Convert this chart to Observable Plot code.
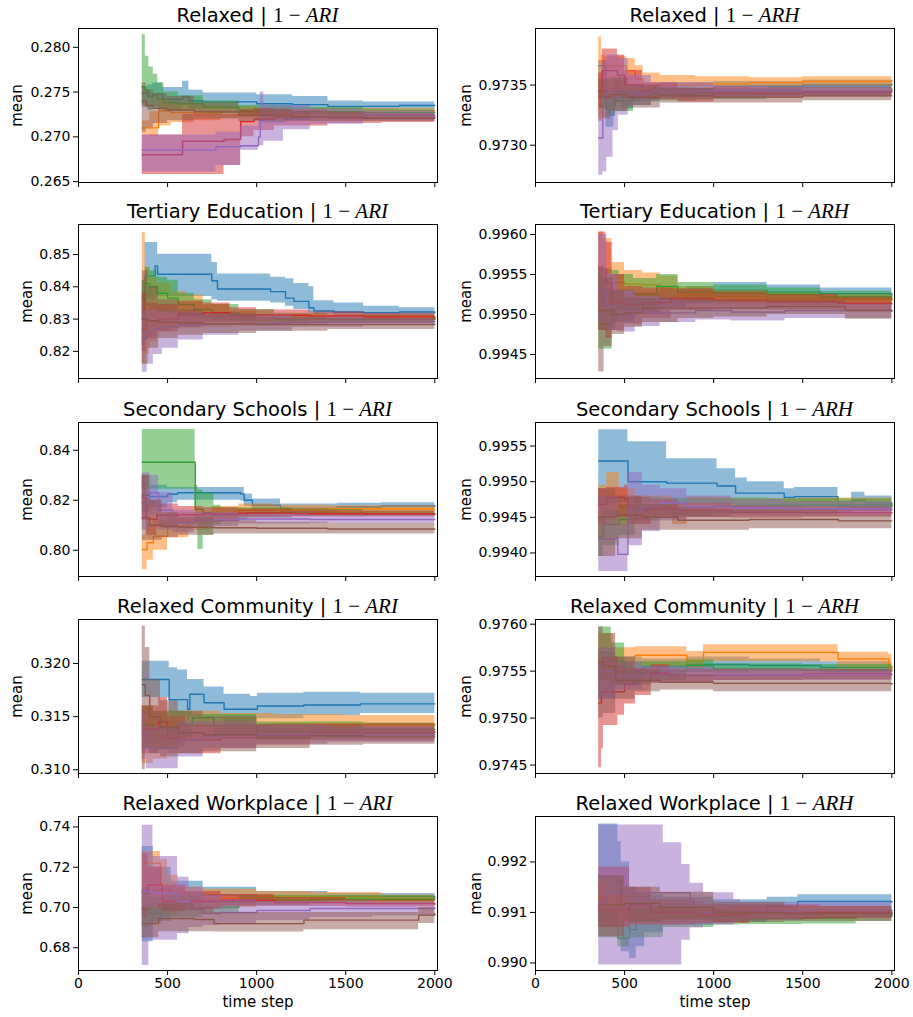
<!DOCTYPE html>
<html><head><meta charset="utf-8">
<script src="https://cdn.jsdelivr.net/npm/d3@7"></script>
<script src="https://cdn.jsdelivr.net/npm/@observablehq/plot@0.6"></script>
<style>
body{margin:0;background:#fff;}
#root{position:relative;width:913px;height:1017px;font-family:"DejaVu Sans";color:#000;}
.title{position:absolute;font-size:19.5px;line-height:20px;text-align:center;white-space:nowrap;}
.m{font-family:"Liberation Serif";font-size:21px;}
#root svg [aria-label$="axis label"]{font-size:15px;}
</style></head><body><div id="root"></div>
<script>
// ---- shared ----
const xTicks = [0, 500, 1000, 1500, 2000];
const xDomain = [0, 2015];
const seriesColors = ["#1f77b4", "#ff7f0e", "#2ca02c", "#d62728", "#9467bd", "#8c564b"];
const rowTitles = ["Relaxed", "Tertiary Education", "Secondary Schools", "Relaxed Community", "Relaxed Workplace"];
const metricNames = ["ARI", "ARH"];

// ---- y axes (domain, ticks, decimals) ----
const relARI_y = [0.2649, 0.2821], relARI_ticks = [0.265, 0.270, 0.275, 0.280], relARI_dec = 3;
const relARH_y = [0.97269, 0.97397], relARH_ticks = [0.9730, 0.9735], relARH_dec = 4;
const terARI_y = [0.8116, 0.8593], terARI_ticks = [0.82, 0.83, 0.84, 0.85], terARI_dec = 2;
const terARH_y = [0.99420, 0.996125], terARH_ticks = [0.9945, 0.9950, 0.9955, 0.9960], terARH_dec = 4;
const secARI_y = [0.7895, 0.8511], secARI_ticks = [0.80, 0.82, 0.84], secARI_dec = 2;
const secARH_y = [0.99367, 0.99583], secARH_ticks = [0.9940, 0.9945, 0.9950, 0.9955], secARH_dec = 4;
const comARI_y = [0.30965, 0.32414], comARI_ticks = [0.310, 0.315, 0.320], comARI_dec = 3;
const comARH_y = [0.97441, 0.97605], comARH_ticks = [0.9745, 0.9750, 0.9755, 0.9760], comARH_dec = 4;
const wrkARI_y = [0.6687, 0.7452], wrkARI_ticks = [0.68, 0.70, 0.72, 0.74], wrkARI_dec = 2;
const wrkARH_y = [0.98985, 0.99290], wrkARH_ticks = [0.990, 0.991, 0.992], wrkARH_dec = 3;

// ---- series: [time step, mean, lower, upper] ----
// Relaxed | 1-ARI
const relARI_blue = [[358,0.2749,0.2733,0.2756],[388,0.2745,0.2730,0.2758],[416,0.2748,0.2733,0.2760],[472,0.2742,0.2730,0.2755],[584,0.2745,0.2735,0.2762],[620,0.2740,0.2731,0.2752],[700,0.2739,0.2731,0.2749],[1000,0.2737,0.2729,0.2747],[1200,0.2736,0.2729,0.2745],[1400,0.2734,0.2729,0.2740],[1600,0.2734,0.2730,0.2739],[1800,0.2735,0.2731,0.2739],[2000,0.2735,0.2732,0.2738]];
const relARI_orange = [[358,0.2710,0.2702,0.2718],[400,0.2710,0.2700,0.2728],[450,0.2729,0.2712,0.2740],[520,0.2727,0.2716,0.2737],[650,0.2726,0.2718,0.2735],[800,0.2728,0.2721,0.2734],[1000,0.2726,0.2721,0.2731],[1300,0.2728,0.2724,0.2732],[1600,0.2729,0.2725,0.2732],[2000,0.2729,0.2726,0.2732]];
const relARI_green = [[358,0.2756,0.2735,0.2814],[375,0.2752,0.2733,0.2790],[395,0.2745,0.2730,0.2778],[420,0.2746,0.2733,0.2770],[445,0.2742,0.2730,0.2760],[480,0.2738,0.2728,0.2750],[560,0.2737,0.2728,0.2746],[700,0.2733,0.2726,0.2740],[900,0.2729,0.2723,0.2735],[1200,0.2728,0.2723,0.2733],[1600,0.2727,0.2723,0.2731],[2000,0.2727,0.2724,0.2730]];
const relARI_red = [[358,0.2680,0.2658,0.2702],[584,0.2695,0.2658,0.2725],[817,0.2697,0.2668,0.2725],[910,0.2717,0.2700,0.2730],[985,0.2720,0.2707,0.2732],[1100,0.2722,0.2712,0.2730],[1400,0.2721,0.2715,0.2727],[1700,0.2721,0.2716,0.2726],[2000,0.2721,0.2717,0.2725]];
const relARI_purple = [[358,0.2685,0.2661,0.2702],[771,0.2689,0.2668,0.2705],[910,0.2690,0.2685,0.2712],[1010,0.2700,0.2690,0.2720],[1020,0.2718,0.2690,0.2750],[1040,0.2717,0.2695,0.2735],[1150,0.2720,0.2708,0.2735],[1300,0.2722,0.2714,0.2731],[1600,0.2724,0.2718,0.2729],[2000,0.2723,0.2719,0.2727]];
const relARI_brown = [[358,0.2740,0.2705,0.2760],[380,0.2735,0.2710,0.2752],[420,0.2732,0.2715,0.2748],[500,0.2730,0.2718,0.2745],[650,0.2728,0.2720,0.2738],[900,0.2724,0.2717,0.2731],[1200,0.2722,0.2717,0.2728],[1600,0.2721,0.2717,0.2725],[2000,0.2721,0.2718,0.2724]];
// Relaxed | 1-ARH
const relARH_blue = [[355,0.97366,0.97340,0.97370],[395,0.97330,0.97315,0.97345],[420,0.97325,0.97315,0.97340],[440,0.97343,0.97335,0.97355],[480,0.97340,0.97330,0.97348],[550,0.97343,0.97336,0.97350],[700,0.97347,0.97342,0.97352],[1000,0.97349,0.97345,0.97353],[1500,0.97350,0.97347,0.97354],[2000,0.97351,0.97348,0.97354]];
const relARH_orange = [[355,0.97370,0.97330,0.97390],[370,0.97370,0.97340,0.97375],[390,0.97366,0.97340,0.97374],[460,0.97366,0.97345,0.97374],[510,0.97362,0.97345,0.97372],[560,0.97355,0.97345,0.97366],[604,0.97349,0.97343,0.97360],[700,0.97350,0.97344,0.97358],[900,0.97351,0.97346,0.97357],[1200,0.97352,0.97348,0.97356],[1500,0.97353,0.97349,0.97357],[2000,0.97354,0.97350,0.97357]];
const relARH_green = [[360,0.97333,0.97330,0.97345],[400,0.97333,0.97325,0.97340],[450,0.97337,0.97328,0.97345],[550,0.97340,0.97333,0.97345],[650,0.97342,0.97337,0.97348],[900,0.97343,0.97338,0.97347],[1300,0.97345,0.97341,0.97349],[2000,0.97347,0.97344,0.97350]];
const relARH_red = [[355,0.97345,0.97320,0.97360],[375,0.97362,0.97338,0.97380],[460,0.97358,0.97340,0.97375],[500,0.97350,0.97338,0.97362],[600,0.97345,0.97338,0.97352],[800,0.97341,0.97336,0.97347],[1000,0.97343,0.97339,0.97348],[1500,0.97344,0.97340,0.97348],[2000,0.97344,0.97341,0.97348]];
const relARH_purple = [[355,0.97306,0.97275,0.97322],[378,0.97340,0.97278,0.97370],[400,0.97345,0.97290,0.97375],[435,0.97340,0.97312,0.97375],[465,0.97342,0.97325,0.97372],[520,0.97343,0.97333,0.97358],[650,0.97345,0.97339,0.97352],[1000,0.97345,0.97340,0.97349],[1500,0.97345,0.97341,0.97349],[2000,0.97345,0.97342,0.97348]];
const relARH_brown = [[355,0.97340,0.97322,0.97355],[420,0.97342,0.97328,0.97356],[520,0.97340,0.97331,0.97350],[700,0.97341,0.97335,0.97347],[1000,0.97340,0.97335,0.97345],[1500,0.97341,0.97337,0.97345],[2000,0.97341,0.97338,0.97345]];
// Tertiary Education | 1-ARI
const terARI_blue = [[358,0.8370,0.8300,0.8420],[373,0.8434,0.8360,0.8537],[430,0.8465,0.8370,0.8537],[444,0.8439,0.8370,0.8501],[748,0.8419,0.8360,0.8475],[780,0.8393,0.8355,0.8440],[1078,0.8385,0.8350,0.8430],[1162,0.8365,0.8340,0.8425],[1209,0.8355,0.8330,0.8410],[1293,0.8335,0.8320,0.8400],[1321,0.8325,0.8315,0.8357],[1433,0.8322,0.8310,0.8350],[1600,0.8320,0.8305,0.8340],[1800,0.8322,0.8308,0.8335],[2000,0.8320,0.8308,0.8333]];
const terARI_orange = [[358,0.8331,0.8161,0.8568],[375,0.8331,0.8190,0.8460],[400,0.8331,0.8230,0.8430],[440,0.8330,0.8260,0.8410],[520,0.8320,0.8270,0.8385],[603,0.8315,0.8272,0.8375],[700,0.8310,0.8275,0.8345],[850,0.8300,0.8278,0.8325],[1000,0.8295,0.8280,0.8312],[1300,0.8300,0.8288,0.8312],[1600,0.8301,0.8290,0.8312],[2000,0.8298,0.8288,0.8307]];
const terARI_green = [[358,0.8300,0.8220,0.8420],[375,0.8410,0.8340,0.8460],[400,0.8400,0.8330,0.8450],[440,0.8380,0.8320,0.8430],[500,0.8365,0.8320,0.8420],[560,0.8345,0.8305,0.8380],[650,0.8330,0.8300,0.8360],[750,0.8318,0.8295,0.8345],[900,0.8312,0.8292,0.8330],[1100,0.8300,0.8285,0.8318],[1400,0.8300,0.8288,0.8312],[2000,0.8301,0.8291,0.8310]];
const terARI_red = [[358,0.8269,0.8200,0.8380],[380,0.8295,0.8240,0.8350],[450,0.8300,0.8260,0.8345],[560,0.8315,0.8280,0.8355],[700,0.8320,0.8290,0.8350],[850,0.8310,0.8290,0.8335],[1000,0.8312,0.8295,0.8328],[1300,0.8310,0.8296,0.8322],[1600,0.8307,0.8296,0.8318],[2000,0.8303,0.8293,0.8312]];
const terARI_purple = [[358,0.8240,0.8135,0.8330],[385,0.8260,0.8160,0.8330],[420,0.8270,0.8190,0.8330],[470,0.8275,0.8210,0.8325],[560,0.8280,0.8235,0.8320],[700,0.8285,0.8250,0.8315],[900,0.8287,0.8262,0.8310],[1200,0.8290,0.8275,0.8305],[1600,0.8292,0.8282,0.8302],[2000,0.8293,0.8285,0.8300]];
const terARI_brown = [[358,0.8300,0.8160,0.8450],[390,0.8295,0.8210,0.8400],[450,0.8290,0.8240,0.8360],[560,0.8288,0.8250,0.8330],[700,0.8285,0.8255,0.8315],[1000,0.8283,0.8262,0.8305],[1400,0.8283,0.8268,0.8300],[2000,0.8284,0.8272,0.8296]];
// Tertiary Education | 1-ARH
const terARH_blue = [[355,0.99517,0.99480,0.99545],[390,0.99505,0.99480,0.99530],[450,0.99508,0.99490,0.99527],[560,0.99513,0.99500,0.99528],[700,0.99520,0.99508,0.99532],[850,0.99525,0.99513,0.99535],[1000,0.99530,0.99520,0.99540],[1300,0.99528,0.99518,0.99537],[1600,0.99526,0.99518,0.99533],[2000,0.99524,0.99517,0.99530]];
const terARH_orange = [[355,0.99542,0.99500,0.99603],[381,0.99546,0.99510,0.99595],[430,0.99540,0.99515,0.99565],[500,0.99538,0.99520,0.99555],[600,0.99537,0.99522,0.99552],[700,0.99533,0.99520,0.99548],[800,0.99525,0.99515,0.99535],[1000,0.99522,0.99513,0.99530],[1300,0.99520,0.99512,0.99527],[1600,0.99519,0.99512,0.99525],[2000,0.99517,0.99511,0.99523]];
const terARH_green = [[355,0.99488,0.99457,0.99557],[430,0.99528,0.99490,0.99555],[470,0.99530,0.99505,0.99550],[550,0.99525,0.99505,0.99545],[680,0.99535,0.99520,0.99550],[800,0.99528,0.99515,0.99540],[1000,0.99527,0.99515,0.99537],[1300,0.99525,0.99515,0.99533],[1600,0.99522,0.99514,0.99529],[2000,0.99519,0.99512,0.99526]];
const terARH_red = [[355,0.99557,0.99480,0.99603],[395,0.99540,0.99470,0.99590],[430,0.99515,0.99480,0.99550],[500,0.99512,0.99488,0.99535],[600,0.99515,0.99495,0.99533],[760,0.99520,0.99505,0.99532],[1000,0.99518,0.99507,0.99528],[1300,0.99516,0.99506,0.99525],[1700,0.99514,0.99505,0.99522],[2000,0.99513,0.99505,0.99520]];
const terARH_purple = [[355,0.99530,0.99490,0.99600],[400,0.99510,0.99480,0.99550],[460,0.99500,0.99478,0.99530],[560,0.99503,0.99485,0.99522],[700,0.99502,0.99490,0.99518],[900,0.99505,0.99493,0.99517],[1100,0.99503,0.99492,0.99515],[1400,0.99505,0.99495,0.99515],[1700,0.99505,0.99495,0.99513],[2000,0.99504,0.99495,0.99512]];
const terARH_brown = [[355,0.99505,0.99428,0.99560],[385,0.99505,0.99460,0.99545],[430,0.99500,0.99475,0.99530],[500,0.99502,0.99484,0.99520],[600,0.99508,0.99490,0.99520],[800,0.99508,0.99495,0.99520],[1000,0.99508,0.99497,0.99518],[1300,0.99510,0.99500,0.99518],[1740,0.99505,0.99494,0.99513],[2000,0.99504,0.99494,0.99512]];
// Secondary Schools | 1-ARI
const secARI_blue = [[358,0.8220,0.8150,0.8300],[400,0.8215,0.8170,0.8260],[500,0.8224,0.8190,0.8251],[556,0.8230,0.8200,0.8251],[911,0.8225,0.8197,0.8251],[930,0.8200,0.8175,0.8225],[976,0.8180,0.8160,0.8205],[1134,0.8167,0.8150,0.8185],[1452,0.8173,0.8160,0.8188],[1700,0.8177,0.8162,0.8190],[2000,0.8175,0.8160,0.8188]];
const secARI_orange = [[358,0.8003,0.7922,0.8060],[385,0.8030,0.7960,0.8100],[420,0.8056,0.8000,0.8120],[500,0.8097,0.8050,0.8150],[620,0.8110,0.8080,0.8150],[750,0.8140,0.8110,0.8175],[900,0.8160,0.8135,0.8185],[1100,0.8163,0.8145,0.8180],[1400,0.8165,0.8150,0.8178],[2000,0.8165,0.8152,0.8176]];
const secARI_green = [[358,0.8352,0.8244,0.8483],[655,0.8164,0.8110,0.8260],[670,0.8164,0.8003,0.8240],[700,0.8150,0.8060,0.8230],[760,0.8140,0.8100,0.8180],[800,0.8145,0.8120,0.8170],[950,0.8150,0.8130,0.8170],[1200,0.8148,0.8135,0.8163],[1600,0.8147,0.8137,0.8158],[2000,0.8146,0.8137,0.8156]];
const secARI_red = [[358,0.8211,0.8120,0.8300],[380,0.8124,0.8060,0.8200],[440,0.8140,0.8090,0.8185],[560,0.8142,0.8110,0.8175],[700,0.8145,0.8120,0.8170],[900,0.8148,0.8130,0.8165],[1200,0.8146,0.8133,0.8160],[1600,0.8145,0.8133,0.8157],[2000,0.8143,0.8133,0.8154]];
const secARI_purple = [[358,0.8190,0.8080,0.8310],[400,0.8230,0.8140,0.8300],[450,0.8160,0.8080,0.8230],[530,0.8110,0.8070,0.8160],[650,0.8120,0.8095,0.8150],[900,0.8125,0.8105,0.8145],[1300,0.8123,0.8108,0.8140],[2000,0.8123,0.8110,0.8137]];
const secARI_brown = [[358,0.8130,0.8040,0.8300],[400,0.8100,0.8040,0.8200],[470,0.8095,0.8050,0.8150],[560,0.8092,0.8060,0.8130],[760,0.8090,0.8065,0.8118],[1000,0.8088,0.8065,0.8112],[1400,0.8085,0.8065,0.8108],[2000,0.8084,0.8065,0.8105]];
// Secondary Schools | 1-ARH
const secARH_blue = [[355,0.99529,0.99470,0.99573],[519,0.99500,0.99470,0.99556],[736,0.99498,0.99470,0.99532],[1019,0.99494,0.99468,0.99518],[1123,0.99484,0.99467,0.99505],[1189,0.99484,0.99465,0.99500],[1396,0.99478,0.99465,0.99490],[1453,0.99479,0.99466,0.99492],[1698,0.99467,0.99457,0.99473],[1774,0.99474,0.99462,0.99485],[1849,0.99470,0.99460,0.99480],[2000,0.99466,0.99459,0.99473]];
const secARH_orange = [[355,0.99470,0.99420,0.99495],[400,0.99480,0.99440,0.99513],[470,0.99465,0.99440,0.99490],[560,0.99460,0.99440,0.99480],[650,0.99465,0.99450,0.99480],[770,0.99455,0.99440,0.99470],[850,0.99465,0.99450,0.99478],[1100,0.99466,0.99455,0.99476],[1500,0.99468,0.99458,0.99477],[2000,0.99467,0.99459,0.99475]];
const secARH_green = [[355,0.99423,0.99395,0.99450],[380,0.99440,0.99410,0.99460],[470,0.99447,0.99425,0.99468],[560,0.99462,0.99445,0.99478],[700,0.99463,0.99450,0.99477],[1000,0.99466,0.99455,0.99477],[1300,0.99467,0.99458,0.99476],[2000,0.99465,0.99457,0.99472]];
const secARH_red = [[355,0.99468,0.99440,0.99490],[400,0.99478,0.99450,0.99492],[500,0.99476,0.99450,0.99495],[520,0.99460,0.99440,0.99478],[650,0.99462,0.99448,0.99475],[800,0.99460,0.99450,0.99470],[1100,0.99457,0.99449,0.99466],[1500,0.99457,0.99450,0.99465],[2000,0.99456,0.99449,0.99463]];
const secARH_purple = [[355,0.99420,0.99374,0.99480],[462,0.99398,0.99374,0.99440],[519,0.99460,0.99410,0.99513],[600,0.99465,0.99430,0.99495],[700,0.99470,0.99445,0.99490],[850,0.99465,0.99450,0.99480],[1100,0.99463,0.99452,0.99475],[1400,0.99462,0.99452,0.99472],[2000,0.99460,0.99452,0.99468]];
const secARH_brown = [[355,0.99450,0.99395,0.99490],[450,0.99453,0.99420,0.99480],[600,0.99450,0.99432,0.99468],[800,0.99446,0.99432,0.99460],[1200,0.99447,0.99434,0.99460],[1700,0.99445,0.99434,0.99455],[2000,0.99445,0.99436,0.99455]];
// Relaxed Community | 1-ARI
const comARI_blue = [[358,0.3185,0.3168,0.3202],[509,0.3166,0.3150,0.3196],[556,0.3166,0.3150,0.3194],[612,0.3157,0.3147,0.3185],[625,0.3171,0.3150,0.3185],[705,0.3163,0.3148,0.3178],[817,0.3157,0.3144,0.3171],[966,0.3157,0.3145,0.3169],[1004,0.3160,0.3148,0.3172],[1265,0.3161,0.3151,0.3173],[1582,0.3162,0.3153,0.3172],[2000,0.3162,0.3154,0.3171]];
const comARI_orange = [[358,0.3133,0.3106,0.3160],[420,0.3132,0.3110,0.3155],[500,0.3140,0.3120,0.3155],[600,0.3142,0.3128,0.3155],[800,0.3142,0.3131,0.3153],[1100,0.3143,0.3134,0.3152],[1500,0.3143,0.3136,0.3151],[2000,0.3142,0.3136,0.3149]];
const comARI_green = [[358,0.3142,0.3120,0.3160],[420,0.3138,0.3120,0.3155],[560,0.3142,0.3130,0.3155],[640,0.3149,0.3140,0.3152],[760,0.3142,0.3132,0.3152],[1000,0.3136,0.3128,0.3145],[1300,0.3137,0.3129,0.3145],[1600,0.3138,0.3132,0.3144],[2000,0.3138,0.3133,0.3143]];
const comARI_red = [[358,0.3138,0.3115,0.3160],[450,0.3145,0.3120,0.3168],[500,0.3130,0.3115,0.3150],[600,0.3128,0.3115,0.3142],[800,0.3130,0.3120,0.3142],[1000,0.3132,0.3123,0.3142],[1300,0.3135,0.3127,0.3143],[2000,0.3136,0.3130,0.3142]];
const comARI_purple = [[358,0.3135,0.3110,0.3155],[380,0.3120,0.3101,0.3140],[560,0.3128,0.3112,0.3145],[700,0.3132,0.3120,0.3145],[1000,0.3133,0.3124,0.3142],[1400,0.3133,0.3126,0.3140],[2000,0.3133,0.3127,0.3139]];
const comARI_brown = [[358,0.3180,0.3100,0.3235],[375,0.3170,0.3120,0.3215],[400,0.3150,0.3115,0.3185],[460,0.3140,0.3112,0.3165],[560,0.3135,0.3115,0.3155],[700,0.3133,0.3117,0.3150],[1000,0.3130,0.3120,0.3143],[1300,0.3132,0.3123,0.3142],[1600,0.3131,0.3124,0.3139],[2000,0.3131,0.3125,0.3138]];
// Relaxed Community | 1-ARH
const comARH_blue = [[355,0.97545,0.97520,0.97570],[450,0.97550,0.97535,0.97565],[600,0.97555,0.97545,0.97563],[849,0.97557,0.97548,0.97565],[1200,0.97556,0.97550,0.97563],[1600,0.97554,0.97548,0.97560],[2000,0.97555,0.97549,0.97560]];
const comARH_orange = [[355,0.97564,0.97545,0.97590],[440,0.97558,0.97545,0.97575],[560,0.97567,0.97555,0.97576],[849,0.97561,0.97552,0.97571],[943,0.97570,0.97560,0.97578],[1698,0.97563,0.97553,0.97570],[1981,0.97555,0.97545,0.97568],[2000,0.97552,0.97545,0.97560]];
const comARH_green = [[355,0.97570,0.97540,0.97597],[425,0.97560,0.97535,0.97580],[500,0.97548,0.97535,0.97560],[650,0.97550,0.97540,0.97560],[849,0.97556,0.97548,0.97562],[1000,0.97552,0.97545,0.97558],[1500,0.97551,0.97545,0.97557],[2000,0.97550,0.97545,0.97555]];
const comARH_red = [[355,0.97516,0.97447,0.97560],[370,0.97528,0.97467,0.97570],[381,0.97528,0.97492,0.97565],[462,0.97528,0.97503,0.97556],[500,0.97536,0.97515,0.97553],[560,0.97540,0.97524,0.97553],[650,0.97548,0.97537,0.97557],[750,0.97545,0.97537,0.97552],[1000,0.97546,0.97540,0.97552],[1500,0.97547,0.97541,0.97552],[2000,0.97547,0.97542,0.97552]];
const comARH_purple = [[355,0.97550,0.97520,0.97575],[450,0.97545,0.97530,0.97560],[600,0.97546,0.97537,0.97555],[1000,0.97546,0.97540,0.97552],[1600,0.97546,0.97540,0.97551],[2000,0.97546,0.97541,0.97551]];
const comARH_brown = [[355,0.97560,0.97500,0.97597],[380,0.97555,0.97505,0.97590],[450,0.97540,0.97520,0.97565],[560,0.97540,0.97528,0.97552],[700,0.97538,0.97530,0.97547],[1000,0.97537,0.97528,0.97545],[1500,0.97537,0.97528,0.97545],[2000,0.97536,0.97528,0.97544]];
// Relaxed Workplace | 1-ARI
const wrkARI_blue = [[358,0.7070,0.6830,0.7303],[420,0.7087,0.6930,0.7200],[520,0.7070,0.7000,0.7130],[700,0.7062,0.7020,0.7100],[1000,0.7053,0.7030,0.7080],[1400,0.7055,0.7040,0.7070],[2000,0.7050,0.7040,0.7062]];
const wrkARI_orange = [[358,0.7220,0.6990,0.7278],[460,0.7120,0.6990,0.7240],[500,0.7000,0.6960,0.7160],[560,0.7035,0.6980,0.7100],[700,0.7045,0.7000,0.7090],[1000,0.7055,0.7030,0.7080],[1300,0.7052,0.7032,0.7075],[1700,0.7045,0.7030,0.7062],[2000,0.7042,0.7030,0.7055]];
const wrkARI_green = [[358,0.6990,0.6900,0.7100],[400,0.6970,0.6920,0.7050],[470,0.6995,0.6950,0.7060],[700,0.7000,0.6970,0.7040],[900,0.7035,0.7010,0.7060],[1300,0.7040,0.7022,0.7060],[2000,0.7040,0.7028,0.7052]];
const wrkARI_red = [[358,0.7080,0.6950,0.7270],[390,0.7112,0.7000,0.7200],[470,0.7030,0.6980,0.7110],[600,0.7030,0.6990,0.7080],[800,0.7035,0.7005,0.7065],[1100,0.7025,0.7005,0.7050],[1500,0.7020,0.7003,0.7038],[2000,0.7015,0.7002,0.7030]];
const wrkARI_purple = [[358,0.7080,0.6712,0.7408],[395,0.7080,0.6837,0.7408],[418,0.7070,0.6837,0.7253],[556,0.7030,0.6870,0.7150],[620,0.6990,0.6900,0.7100],[700,0.6970,0.6910,0.7060],[800,0.6975,0.6920,0.7040],[1000,0.6985,0.6935,0.7030],[1300,0.6995,0.6950,0.7030],[1650,0.6995,0.6958,0.7025],[2000,0.6999,0.6970,0.7025]];
const wrkARI_brown = [[358,0.6920,0.6850,0.7000],[450,0.6945,0.6880,0.7020],[650,0.6940,0.6880,0.7000],[761,0.6920,0.6878,0.6975],[1265,0.6937,0.6890,0.6975],[1909,0.6962,0.6920,0.7000],[2000,0.6970,0.6935,0.7005]];
// Relaxed Workplace | 1-ARH
const wrkARH_blue = [[355,0.99172,0.99079,0.99275],[462,0.99162,0.99079,0.99240],[481,0.99110,0.99022,0.99200],[528,0.99066,0.99009,0.99150],[566,0.99099,0.99032,0.99140],[613,0.99100,0.99060,0.99135],[717,0.99105,0.99075,0.99130],[1000,0.99103,0.99080,0.99125],[1300,0.99112,0.99095,0.99130],[1472,0.99122,0.99110,0.99135],[2000,0.99120,0.99110,0.99130]];
const wrkARH_orange = [[355,0.99129,0.99080,0.99160],[400,0.99100,0.99070,0.99135],[520,0.99090,0.99075,0.99110],[800,0.99093,0.99078,0.99108],[1100,0.99098,0.99085,0.99110],[1500,0.99101,0.99090,0.99112],[2000,0.99100,0.99092,0.99108]];
const wrkARH_green = [[355,0.99075,0.99050,0.99110],[462,0.99049,0.99032,0.99080],[528,0.99085,0.99050,0.99110],[717,0.99090,0.99070,0.99110],[1000,0.99092,0.99075,0.99105],[1150,0.99088,0.99076,0.99100],[1500,0.99089,0.99077,0.99100],[1800,0.99092,0.99082,0.99102],[2000,0.99098,0.99090,0.99106]];
const wrkARH_red = [[355,0.99105,0.99070,0.99190],[528,0.99115,0.99075,0.99150],[650,0.99100,0.99075,0.99125],[900,0.99095,0.99078,0.99115],[1200,0.99100,0.99086,0.99115],[1600,0.99100,0.99088,0.99112],[2000,0.99099,0.99090,0.99108]];
const wrkARH_purple = [[355,0.99120,0.98996,0.99273],[400,0.99139,0.98996,0.99273],[717,0.99139,0.98996,0.99238],[821,0.99139,0.99045,0.99195],[868,0.99120,0.99069,0.99158],[943,0.99100,0.99075,0.99139],[1113,0.99100,0.99080,0.99125],[1151,0.99102,0.99085,0.99120],[1500,0.99105,0.99090,0.99120],[2000,0.99102,0.99090,0.99115]];
const wrkARH_brown = [[355,0.99115,0.99052,0.99172],[500,0.99118,0.99080,0.99150],[700,0.99110,0.99085,0.99140],[1000,0.99100,0.99080,0.99120],[1400,0.99098,0.99082,0.99112],[2000,0.99096,0.99085,0.99108]];

// ---- panel table built from the arrays above ----
const panels = [
  {row:0, metric:0, y:relARI_y, ticks:relARI_ticks, dec:relARI_dec, series:[relARI_blue,relARI_orange,relARI_green,relARI_red,relARI_purple,relARI_brown]},
  {row:0, metric:1, y:relARH_y, ticks:relARH_ticks, dec:relARH_dec, series:[relARH_blue,relARH_orange,relARH_green,relARH_red,relARH_purple,relARH_brown]},
  {row:1, metric:0, y:terARI_y, ticks:terARI_ticks, dec:terARI_dec, series:[terARI_blue,terARI_orange,terARI_green,terARI_red,terARI_purple,terARI_brown]},
  {row:1, metric:1, y:terARH_y, ticks:terARH_ticks, dec:terARH_dec, series:[terARH_blue,terARH_orange,terARH_green,terARH_red,terARH_purple,terARH_brown]},
  {row:2, metric:0, y:secARI_y, ticks:secARI_ticks, dec:secARI_dec, series:[secARI_blue,secARI_orange,secARI_green,secARI_red,secARI_purple,secARI_brown]},
  {row:2, metric:1, y:secARH_y, ticks:secARH_ticks, dec:secARH_dec, series:[secARH_blue,secARH_orange,secARH_green,secARH_red,secARH_purple,secARH_brown]},
  {row:3, metric:0, y:comARI_y, ticks:comARI_ticks, dec:comARI_dec, series:[comARI_blue,comARI_orange,comARI_green,comARI_red,comARI_purple,comARI_brown]},
  {row:3, metric:1, y:comARH_y, ticks:comARH_ticks, dec:comARH_dec, series:[comARH_blue,comARH_orange,comARH_green,comARH_red,comARH_purple,comARH_brown]},
  {row:4, metric:0, y:wrkARI_y, ticks:wrkARI_ticks, dec:wrkARI_dec, series:[wrkARI_blue,wrkARI_orange,wrkARI_green,wrkARI_red,wrkARI_purple,wrkARI_brown]},
  {row:4, metric:1, y:wrkARH_y, ticks:wrkARH_ticks, dec:wrkARH_dec, series:[wrkARH_blue,wrkARH_orange,wrkARH_green,wrkARH_red,wrkARH_purple,wrkARH_brown]}
];

// ---- layout ----
const root = document.getElementById("root");
const frameLeft = [78, 535];
const frameTop = [28, 224, 422, 619, 816];
const frameW = 359, frameH = 154;

panels.forEach(p => {
  const c = p.metric, r = p.row;
  const bottom = r === 4;
  const mL = c === 0 ? 78 : 90, mT = 6, mR = 6, mB = bottom ? 50 : 10;
  const longLabels = p.dec === 4 || (p.dec === 3 && c === 0);
  const labelOffset = c === 0 ? (longLabels ? 67 : 57) : (longLabels ? 75 : 65);
  const marks = [];
  p.series.forEach((rows, k) => {
    marks.push(Plot.areaY(rows, {x: d => d[0], y1: d => d[2], y2: d => d[3], curve: "step-after", fill: seriesColors[k], fillOpacity: 0.5}));
    marks.push(Plot.lineY(rows, {x: d => d[0], y: d => d[1], curve: "step-after", stroke: seriesColors[k], strokeWidth: 1.4}));
  });
  marks.push(Plot.frame({stroke: "#000", strokeWidth: 1}));
  const svg = Plot.plot({
    width: mL + frameW + mR,
    height: mT + frameH + mB,
    marginLeft: mL, marginRight: mR, marginTop: mT, marginBottom: mB,
    style: {fontSize: "14px", fontFamily: "DejaVu Sans", color: "#000", background: "transparent", overflow: "visible"},
    x: {domain: xDomain, ticks: xTicks, tickSize: 5, tickPadding: 3,
        tickFormat: bottom ? (d => String(d)) : (() => ""),
        label: bottom ? "time step" : null, labelArrow: false, labelAnchor: "center", labelOffset: 36},
    y: {domain: p.y, ticks: p.ticks, tickSize: 5, tickPadding: 3,
        tickFormat: d => d.toFixed(p.dec),
        label: "mean", labelArrow: false, labelAnchor: "center", labelOffset: labelOffset},
    marks
  });
  svg.style.position = "absolute";
  svg.style.left = (frameLeft[c] - mL) + "px";
  svg.style.top = (frameTop[r] - mT) + "px";
  root.appendChild(svg);

  const t = document.createElement("div");
  t.className = "title";
  t.style.left = frameLeft[c] + "px";
  t.style.width = frameW + "px";
  t.style.top = (frameTop[r] - 23) + "px";
  t.innerHTML = rowTitles[r] + " | <span class='m'>1 − <i>" + metricNames[c] + "</i></span>";
  root.appendChild(t);
});
</script></body></html>
